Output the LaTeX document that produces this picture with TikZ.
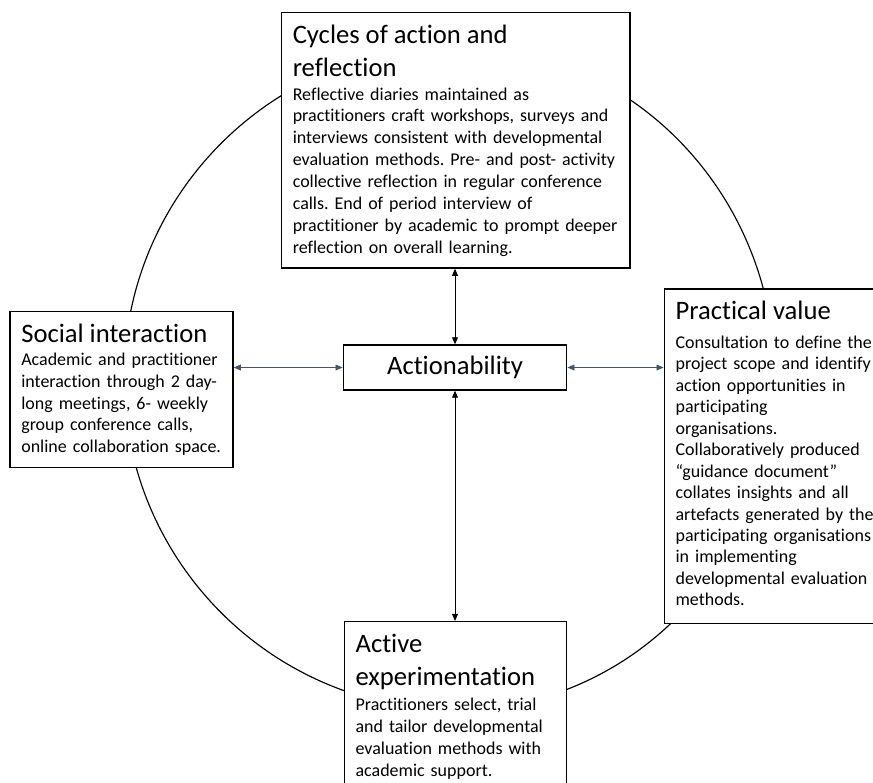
\documentclass[tikz,border=0pt]{standalone}
\usepackage{fontspec}
\setmainfont{Carlito}[Ligatures=NoCommon]
\usepackage{tikz}
\usetikzlibrary{arrows.meta,fit}
\definecolor{linkslate}{RGB}{68,84,106}
\newcommand{\LinkColor}{linkslate}
\newcommand{\PanelHead}[2][0pt]{{\fontsize{16.3}{20.2}\selectfont #2\par}\vspace{#1}}
\frenchspacing

\begin{document}
\begin{tikzpicture}[line cap=round,line join=round,x=0.612pt,y=-0.612pt,
  >={Triangle[length=4.3pt,width=3.6pt]},
  panel/.style={draw,fill=white,line width=0.9pt,line join=miter,inner sep=0pt},
  paneltext/.style={anchor=base west,inner sep=0pt,text width=250pt,align=left,
    font=\fontsize{11}{13.4}\selectfont},
  link/.style={<->,line width=0.5pt}]
  \useasboundingbox (0,0) rectangle (873,782);
  \clip (0,0) rectangle (873,782);
  % the cycle, mostly hidden behind the panels
  \draw[line width=0.7pt] (456,378) ++(0,332)
    arc[start angle=90,end angle=270,radius=332]
    arc[start angle=270,end angle=450,x radius=319,y radius=332];
  % panels
  \node[panel,fit={(281.7,12.7) (630,268)}] (cycles) {};
  \node[panel,fit={(10,311.7) (233,467.3)}] (social) {};
  \node[panel,fit={(664.3,289) (900,623.3)}] (practical) {};
  \node[panel,fit={(344.3,621.7) (566.7,800)}] (active) {};
  \node[panel,minimum width=136.7pt,minimum height=27.5pt,
    font=\fontsize{16.3}{20.2}\selectfont] (action) at (455,367.5) {Actionability};
  \node[paneltext] (cyclestxt) at ([shift={(11.5,31.5)}]cycles.north west) {%
    \PanelHead[1pt]{Cycles of action and\\reflection}%
    Reflective diaries maintained as\\
    practitioners craft workshops, surveys and\\
    interviews consistent with developmental\\
    evaluation methods. Pre- and post- activity\\
    collective reflection in regular conference\\
    calls. End of period interview of\\
    practitioner by academic to prompt deeper\\
    reflection on overall learning.};
  \node[paneltext] (socialtxt) at ([shift={(11.7,31.9)}]social.north west) {%
    \PanelHead[0.3pt]{Social interaction}%
    Academic and practitioner\\
    interaction through 2 day-\\
    long meetings, 6- weekly\\
    group conference calls,\\
    online collaboration space.};
  \node[paneltext,font=\fontsize{11}{13.15}\selectfont] (practicaltxt) at ([shift={(11.7,31)}]practical.north west) {%
    \PanelHead[4.5pt]{Practical value}%
    Consultation to define the\\
    project scope and identify\\
    action opportunities in\\
    participating\\
    organisations.\\
    Collaboratively produced\\
    “guidance document”\\
    collates insights and all\\
    artefacts generated by the\\
    participating organisations\\
    in implementing\\
    developmental evaluation\\
    methods.};
  \node[paneltext] (activetxt) at ([shift={(11.7,31.6)}]active.north west) {%
    \PanelHead[1.8pt]{Active\\experimentation}%
    Practitioners select, trial\\
    and tailor developmental\\
    evaluation methods with\\
    academic support.};
  % links to the centre
  \draw[link] (cycles.south -| action.north) -- (action.north);
  \draw[link] (action.south) -- (action.south |- active.north);
  \draw[link,color=\LinkColor] (social.east |- action.west) -- (action.west);
  \draw[link,color=\LinkColor] (action.east) -- (action.east -| practical.west);
\end{tikzpicture}
\end{document}
